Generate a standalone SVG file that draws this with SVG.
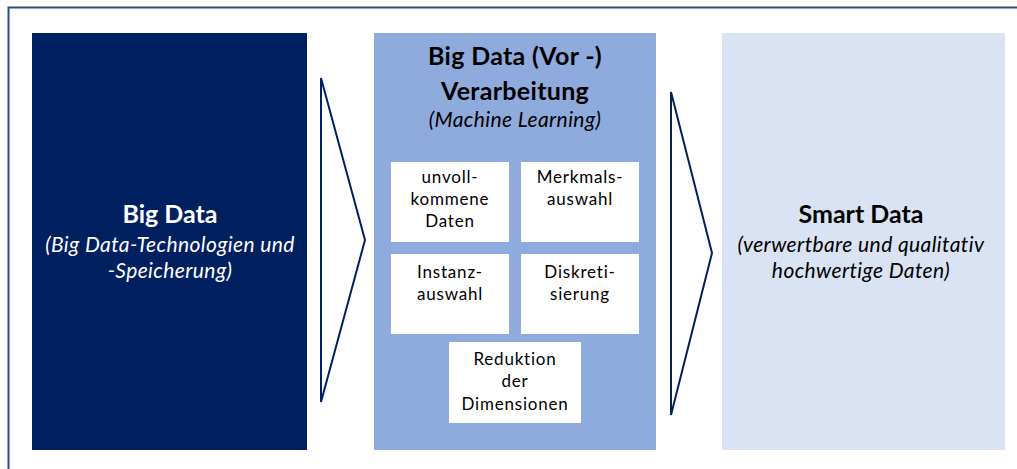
<svg xmlns="http://www.w3.org/2000/svg" width="1017" height="469" viewBox="0 0 1017 469">
<style>
  text { font-family: Lato, "Liberation Sans", sans-serif; text-anchor: middle; }
  .inner { fill: #ffffff; }
  .it { font-size: 17px; letter-spacing: 0.8px; fill: #000000; }
  .h { font-weight: bold; font-size: 25px; }
  .s { font-style: italic; font-size: 21px; letter-spacing: 0.4px; }
  .chev { fill: #ffffff; stroke: #002060; stroke-width: 2; stroke-linejoin: miter; }
</style>
<rect x="0" y="0" width="1017" height="469" fill="#ffffff"/>
<rect x="8.5" y="7.5" width="1030" height="490" fill="none" stroke="#2f4a88" stroke-width="2"/>

<g id="bigdata">
  <rect x="32" y="33" width="275" height="417" fill="#002060"/>
  <text class="h" x="170" y="223" fill="#ffffff">Big Data</text>
  <text class="s" x="170" y="252" fill="#ffffff">(Big Data-Technologien und</text>
  <text class="s" x="170" y="278" fill="#ffffff">-Speicherung)</text>
</g>

<g id="verarbeitung">
  <rect x="374" y="33" width="282" height="417" fill="#8faadc"/>
  <text class="h" x="515" y="65" font-size="26.5" letter-spacing="0.3" fill="#000000">Big Data (Vor -)</text>
  <text class="h" x="515" y="100" font-size="26.5" letter-spacing="0.3" fill="#000000">Verarbeitung</text>
  <text class="s" x="515" y="127" letter-spacing="0.8" fill="#000000">(Machine Learning)</text>
</g>

<g id="unvollkommene">
  <rect class="inner" x="391" y="162" width="118" height="80"/>
  <text class="it" x="450" y="183">unvoll-</text>
  <text class="it" x="450" y="205">kommene</text>
  <text class="it" x="450" y="227">Daten</text>
</g>
<g id="merkmalsauswahl">
  <rect class="inner" x="521" y="162" width="118" height="80"/>
  <text class="it" x="580" y="183">Merkmals-</text>
  <text class="it" x="580" y="205">auswahl</text>
</g>
<g id="instanzauswahl">
  <rect class="inner" x="391" y="254" width="118" height="80"/>
  <text class="it" x="450" y="278">Instanz-</text>
  <text class="it" x="450" y="300">auswahl</text>
</g>
<g id="diskretisierung">
  <rect class="inner" x="521" y="254" width="118" height="80"/>
  <text class="it" x="580" y="278">Diskreti-</text>
  <text class="it" x="580" y="300">sierung</text>
</g>
<g id="reduktion">
  <rect class="inner" x="449" y="342" width="132" height="81"/>
  <text class="it" x="515" y="365">Reduktion</text>
  <text class="it" x="515" y="387">der</text>
  <text class="it" x="515" y="410">Dimensionen</text>
</g>

<g id="smartdata">
  <rect x="722" y="33" width="283" height="417" fill="#dae3f3"/>
  <text class="h" x="861" y="223" fill="#000000">Smart Data</text>
  <text class="s" x="861" y="252" fill="#000000">(verwertbare und qualitativ</text>
  <text class="s" x="861" y="278" fill="#000000">hochwertige Daten)</text>
</g>

<g id="connectors">
  <polygon class="chev" points="321,78 365,240 321,402"/>
  <polygon class="chev" points="671,92 712,253 671,415"/>
</g>
</svg>
